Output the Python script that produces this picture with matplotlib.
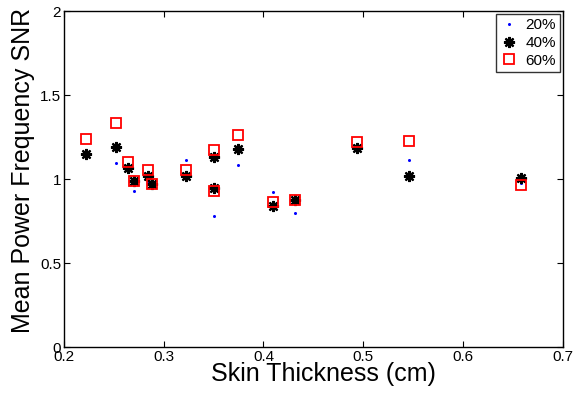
import matplotlib
matplotlib.use("Agg")
import matplotlib.pyplot as plt

plt.rcParams['font.family'] = ['Liberation Sans', 'DejaVu Sans']

# Skin thickness (cm) per subject and mean power frequency SNR at three levels
thickness = [0.222, 0.252, 0.264, 0.270, 0.284, 0.288, 0.322, 0.350, 0.350,
             0.374, 0.410, 0.432, 0.494, 0.546, 0.658]
snr_20 = [1.135, 1.095, 1.070, 0.932, 0.976, 0.970, 1.117, 1.130, 0.783,
          1.085, 0.923, 0.798, 1.170, 1.113, 0.976]
snr_40 = [1.149, 1.194, 1.069, 0.988, 1.020, 0.974, 1.021, 1.131, 0.946,
          1.182, 0.841, 0.877, 1.185, 1.020, 1.010]
snr_60 = [1.238, 1.333, 1.101, 0.988, 1.055, 0.974, 1.055, 1.173, 0.930,
          1.264, 0.867, 0.877, 1.220, 1.230, 0.964]
series_labels = ['20%', '40%', '60%']

x_ticks = [0.2, 0.3, 0.4, 0.5, 0.6, 0.7]
x_ticklabels = ['0.2', '0.3', '0.4', '0.5', '0.6', '0.7']
y_ticks = [0, 0.5, 1, 1.5, 2]
y_ticklabels = ['0', '0.5', '1', '1.5', '2']

fig = plt.figure(figsize=(5.75, 3.96), dpi=100)
ax = fig.add_axes([0.1113, 0.123, 0.8673, 0.8485])

ax.plot(thickness, snr_20, linestyle='none', marker='o', markersize=2.2,
        color='#0000ff', markeredgewidth=0, label=series_labels[0])
ax.plot(thickness, snr_40, linestyle='none', marker=(8, 2, 0), markersize=8,
        color='black', markeredgewidth=1.6, label=series_labels[1])
ax.plot(thickness, snr_60, linestyle='none', marker='s', markersize=7.5,
        markerfacecolor='none', markeredgecolor='#ff0000', markeredgewidth=1.3,
        label=series_labels[2])

ax.set_xlim(0.2, 0.7)
ax.set_ylim(0, 2)
ax.set_xticks(x_ticks)
ax.set_xticklabels(x_ticklabels)
ax.set_yticks(y_ticks)
ax.set_yticklabels(y_ticklabels)
ax.tick_params(direction='in', length=4, width=0.8, labelsize=11,
               top=True, right=True, pad=2)
for s in ax.spines.values():
    s.set_linewidth(1.0)

ax.set_xlabel('Skin Thickness (cm)', fontsize=18)
ax.set_ylabel('Mean Power Frequency SNR', fontsize=18)
ax.xaxis.set_label_coords(0.521, -0.045)
ax.yaxis.set_label_coords(-0.058, 0.525)

leg = ax.legend(loc='upper right', fontsize=11, frameon=True, fancybox=False,
                edgecolor='black', borderpad=0.3, handlelength=1.0,
                handletextpad=0.6, labelspacing=0.25, borderaxespad=0.15)
leg.get_frame().set_linewidth(1.0)

fig.savefig('out.png', dpi=100)
